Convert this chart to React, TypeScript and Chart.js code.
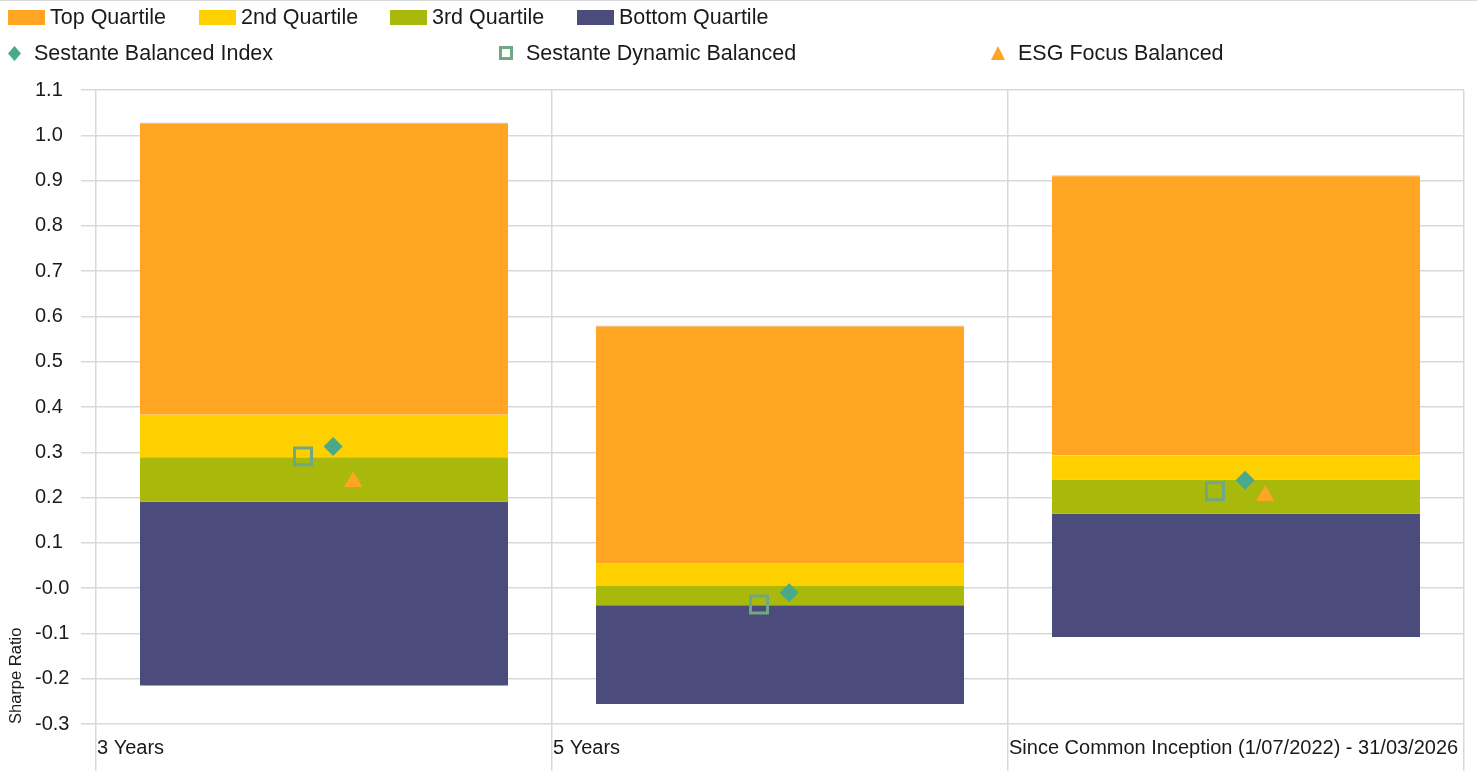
import React, { useEffect, useRef } from 'react';
import { Chart, registerables } from 'chart.js';

Chart.register(...registerables);

// ---------- data ----------
const categories = ['3 Years', '5 Years', 'Since Common Inception (1/07/2022) - 31/03/2026'];
const minValues = [-0.215, -0.256, -0.108];
const q1Values = [0.191, -0.038, 0.164];
const medianValues = [0.289, 0.005, 0.240];
const q3Values = [0.383, 0.054, 0.293];
const maxValues = [1.028, 0.580, 0.912];

const sestanteBalancedIndex: (number | null)[] = [0.313, -0.010, 0.238];
const sestanteDynamicBalanced: (number | null)[] = [0.291, -0.036, 0.214];
const esgFocusBalanced: (number | null)[] = [0.235, null, 0.204];

const yMin = -0.3;
const yMax = 1.1;
const yStep = 0.1;
const yTitle = 'Sharpe Ratio';

// ---------- style ----------
const FONT = '"Liberation Sans", Arial, Helvetica, sans-serif';
const TEXT = '#1a1a1a';
const GRID = '#d9d9d9';
const C_TOP = '#FFA521';
const C_SECOND = '#FFD000';
const C_THIRD = '#A9B90C';
const C_BOTTOM = '#4B4C7B';
const C_INDEX = '#4AA98A';
const C_DYNAMIC = '#70A784';
const C_ESG = '#FFA525';

// horizontal position of each marker series within its category (fraction of category width)
const OFF_DYNAMIC = -0.046;
const OFF_INDEX = 0.02;
const OFF_ESG = 0.064;

const toPoints = (vals: (number | null)[], off: number) =>
  vals
    .map((v, i) => (v == null ? null : { x: i + 0.5 + off, y: v }))
    .filter((p) => p !== null) as { x: number; y: number }[];

const range = (lo: number[], hi: number[]) => categories.map((_, i) => [lo[i], hi[i]]);

function ChartCanvas() {
  const ref = useRef<HTMLCanvasElement | null>(null);
  useEffect(() => {
    if (!ref.current) return;
    const barCommon = {
      type: 'bar' as const,
      xAxisID: 'x',
      yAxisID: 'y',
      grouped: false,
      barPercentage: 0.807,
      categoryPercentage: 1,
      order: 5,
      borderWidth: 0,
    };
    const chart = new Chart(ref.current, {
      type: 'bar',
      data: {
        labels: categories,
        datasets: [
          {
            ...barCommon,
            label: 'Top Quartile',
            data: range(q3Values, maxValues),
            backgroundColor: C_TOP,
            borderColor: '#c4c4c4',
            borderWidth: { top: 1, left: 0, right: 0, bottom: 0 },
            borderSkipped: false,
          } as any,
          { ...barCommon, label: '2nd Quartile', data: range(medianValues, q3Values), backgroundColor: C_SECOND } as any,
          { ...barCommon, label: '3rd Quartile', data: range(q1Values, medianValues), backgroundColor: C_THIRD } as any,
          { ...barCommon, label: 'Bottom Quartile', data: range(minValues, q1Values), backgroundColor: C_BOTTOM } as any,
          {
            type: 'scatter',
            label: 'Sestante Balanced Index',
            xAxisID: 'x2',
            yAxisID: 'y',
            data: toPoints(sestanteBalancedIndex, OFF_INDEX),
            pointStyle: 'rectRot',
            pointRadius: 9.5,
            pointBorderWidth: 0,
            backgroundColor: C_INDEX,
            borderColor: C_INDEX,
            order: 1,
          } as any,
          {
            type: 'scatter',
            label: 'Sestante Dynamic Balanced',
            xAxisID: 'x2',
            yAxisID: 'y',
            data: toPoints(sestanteDynamicBalanced, OFF_DYNAMIC),
            pointStyle: 'rect',
            pointRadius: 12,
            pointBorderWidth: 3,
            backgroundColor: 'rgba(0,0,0,0)',
            borderColor: C_DYNAMIC,
            order: 1,
          } as any,
          {
            type: 'scatter',
            label: 'ESG Focus Balanced',
            xAxisID: 'x2',
            yAxisID: 'y',
            data: toPoints(esgFocusBalanced, OFF_ESG),
            pointStyle: 'triangle',
            pointRadius: 10.5,
            pointBorderWidth: 0,
            backgroundColor: C_ESG,
            borderColor: C_ESG,
            order: 1,
          } as any,
        ],
      },
      options: {
        animation: false,
        responsive: false,
        devicePixelRatio: 1,
        events: [],
        layout: { padding: { top: 89, right: 13, bottom: 0, left: 35 }, autoPadding: false },
        plugins: { legend: { display: false }, tooltip: { enabled: false } },
        scales: {
          x: {
            type: 'category',
            offset: true,
            grid: { offset: true, color: GRID, lineWidth: 1.5, tickLength: 48, drawTicks: true },
            border: { display: false },
            ticks: {
              align: 'start',
              labelOffset: -227,
              padding: -36,
              maxRotation: 0,
              minRotation: 0,
              autoSkip: false,
              color: TEXT,
              font: { family: FONT, size: 20 },
            },
            afterFit: (s: any) => {
              s.height = 48;
              s.paddingLeft = 0;
              s.paddingRight = 0;
            },
          },
          x2: {
            type: 'linear',
            min: 0,
            max: categories.length,
            offset: false,
            display: false,
            grid: { offset: false },
          },
          y: {
            type: 'linear',
            min: yMin,
            max: yMax,
            grid: { color: GRID, lineWidth: 1.5, tickLength: 15 },
            border: { display: false },
            ticks: {
              stepSize: yStep,
              crossAlign: 'far',
              padding: 12,
              color: TEXT,
              font: { family: FONT, size: 20 },
              callback: (v: any) => {
                const n = Number(v);
                return Math.abs(n) < 1e-9 ? '-0.0' : n.toFixed(1);
              },
            },
            title: {
              display: true,
              text: yTitle,
              align: 'start',
              color: TEXT,
              font: { family: FONT, size: 16.5 },
              padding: { top: -28, bottom: 0 },
            },
            afterFit: (s: any) => {
              s.width = 61;
              s.paddingTop = 0;
              s.paddingBottom = 0;
            },
          },
        },
      } as any,
    });
    return () => chart.destroy();
  }, []);
  return (
    <canvas
      ref={ref}
      width={1477}
      height={771}
      style={{ position: 'absolute', left: 0, top: 0, width: 1477, height: 771, display: 'block' }}
    />
  );
}

const legendText: React.CSSProperties = {
  position: 'absolute',
  fontFamily: FONT,
  fontSize: 21.5,
  color: TEXT,
  lineHeight: '24px',
  whiteSpace: 'nowrap',
};

function Legend() {
  const boxes = [
    { label: 'Top Quartile', color: C_TOP, x: 8 },
    { label: '2nd Quartile', color: C_SECOND, x: 199 },
    { label: '3rd Quartile', color: C_THIRD, x: 390 },
    { label: 'Bottom Quartile', color: C_BOTTOM, x: 577 },
  ];
  return (
    <>
      {boxes.map((b) => (
        <React.Fragment key={b.label}>
          <div style={{ position: 'absolute', left: b.x, top: 9, width: 37, height: 15, background: b.color }} />
          <div style={{ ...legendText, left: b.x + 42, top: 4 }}>{b.label}</div>
        </React.Fragment>
      ))}
      {/* row 2 */}
      <svg style={{ position: 'absolute', left: 8, top: 45 }} width={13} height={15}>
        <polygon points="6.5,0 13,7.5 6.5,15 0,7.5" fill={C_INDEX} />
      </svg>
      <div style={{ ...legendText, left: 34, top: 40 }}>Sestante Balanced Index</div>
      <svg style={{ position: 'absolute', left: 499, top: 45 }} width={14} height={14}>
        <rect x={1.5} y={1.5} width={11} height={11} fill="none" stroke={C_DYNAMIC} strokeWidth={3} />
      </svg>
      <div style={{ ...legendText, left: 526, top: 40 }}>Sestante Dynamic Balanced</div>
      <svg style={{ position: 'absolute', left: 991, top: 45 }} width={14} height={14}>
        <polygon points="7,0 14,14 0,14" fill={C_ESG} />
      </svg>
      <div style={{ ...legendText, left: 1018, top: 40 }}>ESG Focus Balanced</div>
    </>
  );
}

export default function App() {
  return (
    <div
      style={{
        position: 'absolute',
        left: 0,
        top: 0,
        width: 1477,
        height: 771,
        background: '#fff',
        overflow: 'hidden',
        borderTop: '1px solid #d9d9d9',
        boxSizing: 'border-box',
      }}
    >
      <ChartCanvas />
      <Legend />
    </div>
  );
}
